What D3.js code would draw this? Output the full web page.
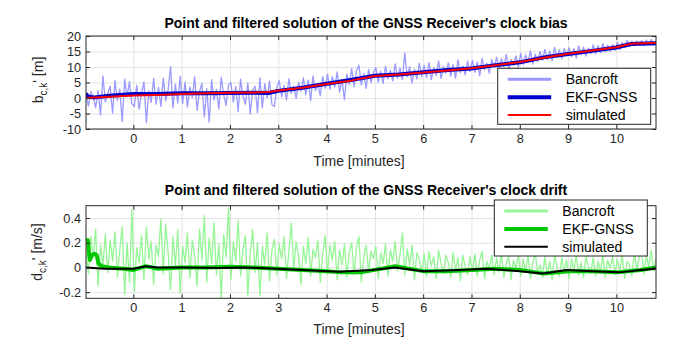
<!DOCTYPE html>
<html>
<head>
<meta charset="utf-8">
<script src="https://cdn.jsdelivr.net/npm/d3@7"></script>
<style>
  body { margin: 0; background: #fff; }
  svg { display: block; }
</style>
</head>
<body>
<svg id="chart" width="694" height="342"></svg>
<script>
// sampling grid of the Bancroft solutions (minutes)
const tStart = -0.98;
const tStep = 0.05;
const timeRange = [-0.98, 10.82];
const timeTicks = [0, 1, 2, 3, 4, 5, 6, 7, 8, 9, 10];
const biasTicks = [-10, -5, 0, 5, 10, 15, 20];
const driftTicks = [-0.2, 0, 0.2, 0.4];

// clock bias [m], point solution (one value every tStep)
const biasBancroft = [
  1.2, -2.6, 2.0, 0.3, -3.1, 2.4, -5.4, 7.1, -1.2, 1.5,
  3.8, -4.9, 5.6, -0.8, 2.9, -7.6, 6.1, 0.4, 5.3, -1.9,
  -2.8, 4.1, -3.6, 1.7, 5.2, -8.0, 2.3, -1.4, 6.3, -2.0,
  3.4, -2.7, 6.4, -0.9, 2.6, 10.1, -3.2, 4.5, -1.6, 7.0,
  -1.8, 5.1, -2.9, 3.6, 0.2, 6.8, -4.0, 2.1, 4.7, -6.1,
  3.0, -7.8, 5.9, -0.7, 2.8, -3.5, 6.7, 1.1, -2.4, 4.2,
  5.0, -1.3, 3.7, -4.4, 6.1, 0.6, -2.0, 4.9, -5.2, 2.5,
  3.8, -4.7, 6.5, -3.1, 4.6, 0.1, 5.4, -2.2, -2.8, 3.3,
  5.6, 0.4, 4.1, -0.6, 6.2, 1.5, 3.9, -0.1, 5.0, 2.2,
  6.5, 1.0, 5.8, -0.9, 7.1, 2.4, 4.6, 0.7, 6.9, 3.1,
  7.6, 2.8, 6.9, 3.5, 8.4, 1.9, 6.0, -0.5, 7.7, 4.4,
  9.5, 3.6, 8.8, 10.6, 4.2, 7.9, 3.1, 9.2, 5.0, 8.1,
  9.8, 5.1, 8.6, 4.7, 10.3, 6.2, 9.0, 5.5, 11.0, 6.4,
  9.6, 5.9, 14.6, 6.8, 10.1, 4.8, 9.3, 6.1, 11.2, 7.0,
  10.5, 6.6, 11.4, 5.9, 9.8, 7.2, 12.0, 6.3, 10.2, 8.0,
  11.3, 7.1, 10.8, 6.4, 12.3, 8.2, 10.4, 7.5, 11.9, 8.6,
  12.1, 8.3, 11.6, 7.2, 12.8, 9.1, 11.2, 8.0, 12.5, 9.7,
  13.2, 9.6, 12.7, 10.1, 14.0, 9.3, 12.4, 10.6, 13.6, 10.0,
  14.4, 10.8, 13.9, 11.5, 15.2, 10.9, 14.1, 11.8, 15.0, 12.2,
  15.7, 12.4, 15.1, 12.0, 16.3, 13.1, 15.5, 12.6, 16.0, 13.8,
  16.2, 13.3, 15.9, 12.9, 16.8, 14.0, 16.4, 13.5, 16.1, 14.3,
  17.1, 14.2, 16.9, 14.6, 17.5, 14.9, 17.0, 15.1, 17.3, 15.4,
  18.0, 15.6, 17.9, 16.2, 18.6, 16.5, 18.3, 16.9, 18.4, 17.0,
  18.5, 16.8, 18.7, 17.2, 18.9, 17.0, 18.2
];

// clock drift [m/s], point solution (one value every tStep)
const driftBancroft = [
  0.12, -0.05, 0.25, 0.08, 0.31, -0.15, 0.18, 0.02, 0.27, -0.04,
  0.22, 0.05, 0.29, -0.08, 0.14, 0.33, -0.22, 0.20, -0.12, 0.47,
  -0.20, 0.16, 0.04, 0.26, -0.10, 0.33, 0.07, 0.21, -0.14, 0.18,
  0.09, 0.39, -0.05, 0.35, 0.12, -0.18, 0.25, 0.01, 0.30, -0.21,
  0.17, 0.04, 0.28, -0.09, 0.22, 0.10, -0.15, 0.31, 0.06, 0.42,
  -0.12, 0.24, 0.03, 0.36, -0.06, 0.19, -0.25, 0.27, 0.08, 0.48,
  -0.10, 0.21, 0.05, 0.38, -0.07, 0.15, 0.26, -0.23, 0.11, 0.31,
  -0.04, 0.20, -0.23, 0.17, 0.02, 0.28, -0.11, 0.14, 0.23, -0.06,
  0.19, 0.07, 0.25, -0.09, 0.13, 0.36, -0.02, 0.21, 0.09, -0.14,
  0.17, 0.03, 0.24, -0.07, 0.15, 0.08, 0.22, -0.12, 0.11, 0.26,
  -0.05, 0.18, 0.06, 0.21, -0.10, 0.14, 0.02, 0.19, -0.08, 0.12,
  0.20, -0.06, 0.16, 0.25, -0.12, 0.09, 0.18, -0.04, 0.13, 0.07,
  0.17, -0.09, 0.12, 0.03, 0.19, -0.07, 0.14, 0.05, 0.21, -0.03,
  0.10, 0.28, -0.06, 0.15, 0.02, 0.18, -0.10, 0.12, 0.06, -0.04,
  0.11, -0.07, 0.13, 0.01, 0.09, -0.09, 0.14, 0.03, -0.05, 0.10,
  0.04, -0.08, 0.12, -0.02, 0.08, -0.11, 0.10, 0.01, -0.06, 0.09,
  -0.03, 0.11, -0.07, 0.06, 0.13, -0.09, 0.05, -0.02, 0.10, -0.06,
  0.08, -0.04, 0.12, -0.08, 0.03, 0.09, -0.10, 0.06, -0.01, 0.11,
  -0.07, 0.07, -0.03, 0.10, -0.09, 0.04, 0.12, -0.05, 0.02, -0.08,
  0.09, -0.06, 0.05, -0.10, 0.11, 0.00, -0.07, 0.08, -0.03, 0.06,
  -0.09, 0.07, -0.02, 0.10, -0.06, 0.04, -0.08, 0.09, 0.01, -0.05,
  0.08, -0.07, 0.05, -0.03, 0.10, -0.08, 0.06, -0.01, 0.09, -0.06,
  0.07, -0.04, 0.11, -0.09, 0.05, 0.02, -0.07, 0.12, -0.02, 0.08,
  0.13, -0.05, 0.10, 0.00, 0.14, -0.03, 0.07
];

// EKF-GNSS and simulated clock bias [m]
const ekfBiasTime = [-0.98, -0.95, -0.9, -0.8, -0.5, 0, 0.5, 1, 1.5, 2, 2.5, 2.8, 3, 3.5, 4, 4.5, 5, 5.5, 6, 6.5, 7, 7.5, 8, 8.5, 9, 9.5, 10, 10.3, 10.82];
const ekfBias = [1.5, 0.6, 0.3, 0.2, 0.7, 1.3, 1.3, 1.5, 1.5, 1.6, 1.7, 1.6, 2.3, 3.3, 4.6, 5.8, 7.2, 7.6, 8.3, 9.0, 9.5, 10.6, 11.5, 13.1, 14.2, 15.2, 16.3, 17.4, 17.7];
const simBiasTime = [-0.98, -0.5, 0, 0.5, 1, 1.5, 2, 2.5, 2.8, 3, 3.5, 4, 4.5, 5, 5.5, 6, 6.5, 7, 7.5, 8, 8.5, 9, 9.5, 10, 10.3, 10.82];
const simBias = [0.0, 0.4, 0.8, 1.0, 1.3, 1.5, 1.7, 1.8, 1.9, 2.4, 3.3, 4.5, 5.6, 7.1, 7.6, 8.2, 8.9, 9.6, 10.6, 11.6, 13.0, 14.3, 15.3, 16.4, 17.5, 17.8];

// EKF-GNSS and simulated clock drift [m/s]
const ekfDriftTime = [-0.98, -0.94, -0.92, -0.9, -0.86, -0.8, -0.76, -0.72, -0.65, -0.5, -0.2, 0, 0.26, 0.5, 1.0, 1.5, 2.0, 2.5, 3.0, 3.5, 4.0, 4.3, 4.7, 5.0, 5.42, 6.0, 6.5, 7.0, 7.5, 8.0, 8.5, 9.0, 9.5, 10.0, 10.5, 10.82];
const ekfDrift = [0.22, 0.22, 0.12, 0.06, 0.10, 0.11, 0.10, 0.03, 0.01, 0.0, -0.01, -0.02, 0.01, -0.01, 0.0, 0.0, 0.005, 0.0, -0.01, -0.02, -0.03, -0.04, -0.04, -0.02, 0.01, -0.03, -0.03, -0.02, -0.01, -0.02, -0.05, -0.03, -0.03, -0.04, -0.02, 0.0];
const simDriftTime = [-0.98, -0.6, 0, 0.26, 0.5, 1.05, 1.74, 2.3, 2.95, 3.5, 4.25, 4.94, 5.42, 6.0, 6.76, 7.31, 8.0, 8.48, 8.97, 9.5, 10.07, 10.5, 10.82];
const simDrift = [0.0, -0.01, -0.01, 0.01, 0.0, 0.0, -0.005, 0.0, -0.01, -0.02, -0.035, -0.02, 0.0, -0.03, -0.02, -0.01, -0.03, -0.05, -0.02, -0.03, -0.04, -0.02, -0.01];

const legendNames = ["Bancroft", "EKF-GNSS", "simulated"];

document.addEventListener('DOMContentLoaded', () => {
    const svg = d3.select("#chart");
    const font = '"Liberation Sans", Arial, Helvetica, sans-serif';
    const axisColor = "#262626";
    const gridColor = "#e3e3e3";

    const x = d3.scaleLinear().domain(timeRange).range([86, 656]);
    const bancroftTime = biasBancroft.map((_, i) => tStart + i * tStep);

    const panels = [
        {
            id: "bias", top: 36, bottom: 129, yDomain: [-10, 20], yTicks: biasTicks,
            title: "Point and filtered solution of the GNSS Receiver's clock bias",
            sym: "b", unit: "' [m]", labelX: 43, labelY: 80,
            xLabelY: 166, titleY: 28, legend: [497.7, 68.3],
            series: [
                { t: bancroftTime, v: biasBancroft, color: "#9a9aff", width: 1.3, legendWidth: 3 },
                { t: ekfBiasTime, v: ekfBias, color: "#0000cc", width: 4, legendWidth: 4 },
                { t: simBiasTime, v: simBias, color: "#ff0000", width: 2, legendWidth: 2 }
            ]
        },
        {
            id: "drift", top: 205.7, bottom: 298.3, yDomain: [-0.25, 0.5], yTicks: driftTicks,
            title: "Point and filtered solution of the GNSS Receiver's clock drift",
            sym: "d", unit: "' [m/s]", labelX: 41.5, labelY: 252,
            xLabelY: 334, titleY: 195, legend: [494.3, 200],
            series: [
                { t: bancroftTime, v: driftBancroft, color: "#96f596", width: 1.3, legendWidth: 3 },
                { t: ekfDriftTime, v: ekfDrift, color: "#00c800", width: 4, legendWidth: 4 },
                { t: simDriftTime, v: simDrift, color: "#000000", width: 2, legendWidth: 2 }
            ]
        }
    ];

    panels.forEach(drawPanel);

    function styleAxis(sel) {
        sel.select(".domain").remove();
        sel.attr("font-family", font).attr("font-size", 12.7);
        sel.selectAll("line").attr("stroke", axisColor);
        sel.selectAll("text").attr("fill", axisColor);
    }

    function drawPanel(p) {
        const y = d3.scaleLinear().domain(p.yDomain).range([p.bottom, p.top]);
        const h = p.bottom - p.top;
        const w = x.range()[1] - x.range()[0];
        const g = svg.append("g");

        // grid
        g.append("g")
            .attr("transform", `translate(0,${p.bottom})`)
            .call(d3.axisBottom(x).tickValues(timeTicks).tickSize(-h).tickFormat(""))
            .call(s => s.select(".domain").remove())
            .selectAll("line").attr("stroke", gridColor);
        g.append("g")
            .attr("transform", `translate(${x.range()[0]},0)`)
            .call(d3.axisLeft(y).tickValues(p.yTicks).tickSize(-w).tickFormat(""))
            .call(s => s.select(".domain").remove())
            .selectAll("line").attr("stroke", gridColor);

        // data
        g.append("clipPath").attr("id", "clip-" + p.id)
            .append("rect").attr("x", x.range()[0]).attr("y", p.top).attr("width", w).attr("height", h);
        const plot = g.append("g").attr("clip-path", `url(#clip-${p.id})`);
        p.series.forEach(s => {
            const line = d3.line().x((d, i) => x(s.t[i])).y(d => y(d));
            plot.append("path")
                .datum(s.v)
                .attr("d", line)
                .attr("fill", "none")
                .attr("stroke", s.color)
                .attr("stroke-width", s.width)
                .attr("stroke-linejoin", "round");
        });

        // axes, ticks pointing inward on all four sides
        g.append("g").attr("transform", `translate(0,${p.bottom})`)
            .call(d3.axisBottom(x).tickValues(timeTicks).tickSizeInner(-4).tickSizeOuter(0).tickPadding(5).tickFormat(d => String(d)))
            .call(styleAxis);
        g.append("g").attr("transform", `translate(0,${p.top})`)
            .call(d3.axisTop(x).tickValues(timeTicks).tickSizeInner(-4).tickSizeOuter(0).tickFormat(""))
            .call(styleAxis);
        g.append("g").attr("transform", `translate(${x.range()[0]},0)`)
            .call(d3.axisLeft(y).tickValues(p.yTicks).tickSizeInner(-4).tickSizeOuter(0).tickPadding(5).tickFormat(d => String(d)))
            .call(styleAxis);
        g.append("g").attr("transform", `translate(${x.range()[1]},0)`)
            .call(d3.axisRight(y).tickValues(p.yTicks).tickSizeInner(-4).tickSizeOuter(0).tickFormat(""))
            .call(styleAxis);

        g.append("rect")
            .attr("x", x.range()[0]).attr("y", p.top)
            .attr("width", w).attr("height", h)
            .attr("fill", "none").attr("stroke", axisColor).attr("stroke-width", 1);

        // title and labels
        g.append("text")
            .attr("x", 366).attr("y", p.titleY)
            .attr("text-anchor", "middle")
            .attr("font-family", font).attr("font-size", 14).attr("font-weight", "bold")
            .attr("fill", "#000")
            .text(p.title);

        g.append("text")
            .attr("x", 359).attr("y", p.xLabelY)
            .attr("text-anchor", "middle")
            .attr("font-family", font).attr("font-size", 14)
            .attr("fill", axisColor)
            .text("Time [minutes]");

        const yl = g.append("text")
            .attr("transform", `translate(${p.labelX},${p.labelY}) rotate(-90)`)
            .attr("text-anchor", "middle")
            .attr("font-family", font).attr("font-size", 14)
            .attr("fill", axisColor);
        yl.append("tspan").text(p.sym);
        yl.append("tspan").attr("font-size", 10).attr("dy", 4).text("c,k");
        yl.append("tspan").attr("dy", -4).text(p.unit);

        // legend
        const lg = g.append("g").attr("transform", `translate(${p.legend[0]},${p.legend[1]})`);
        lg.append("rect")
            .attr("width", 153).attr("height", 56)
            .attr("fill", "#fff").attr("stroke", axisColor).attr("stroke-width", 1);
        const rowY = [11, 29, 46.7];
        p.series.forEach((s, i) => {
            lg.append("line")
                .attr("x1", 10).attr("x2", 53.5)
                .attr("y1", rowY[i]).attr("y2", rowY[i])
                .attr("stroke", s.color).attr("stroke-width", s.legendWidth);
            lg.append("text")
                .attr("x", 68).attr("y", rowY[i]).attr("dy", "0.36em")
                .attr("font-family", font).attr("font-size", 14)
                .attr("fill", "#000")
                .text(legendNames[i]);
        });
    }
});
</script>
</body>
</html>
